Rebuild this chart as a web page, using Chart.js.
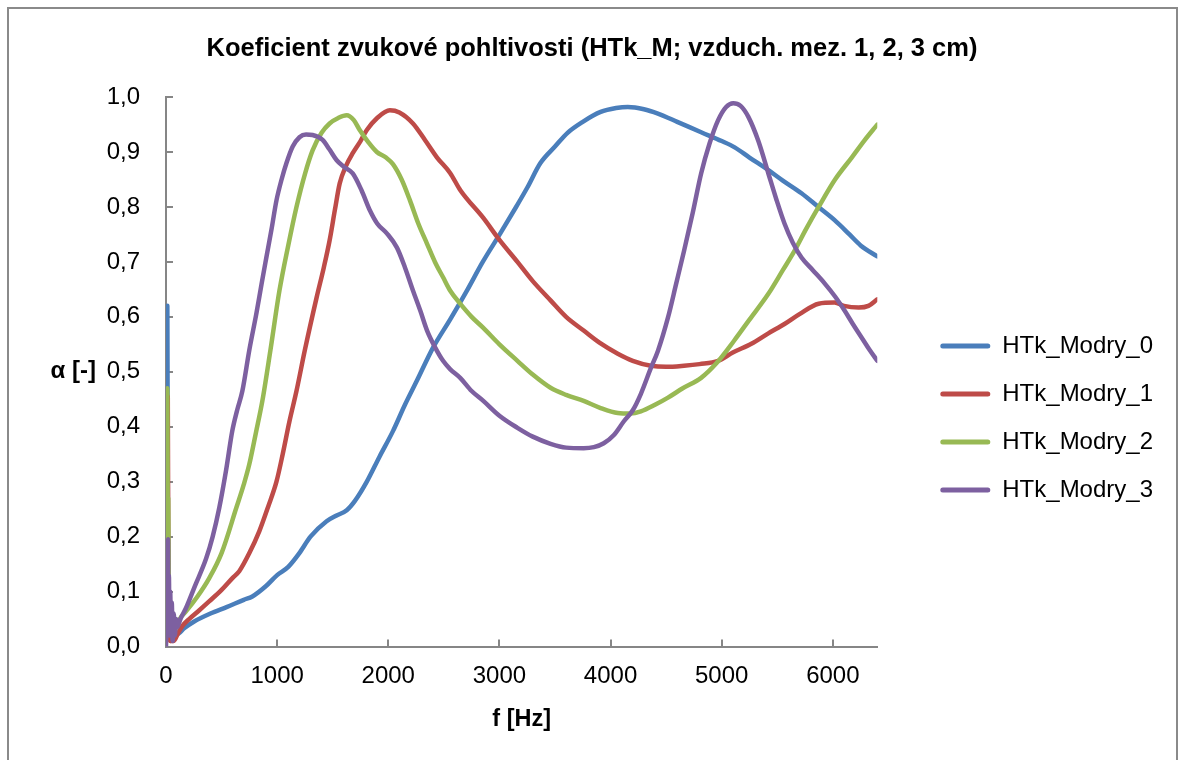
<!DOCTYPE html>
<html>
<head>
<meta charset="utf-8">
<script src="https://cdn.jsdelivr.net/npm/chart.js@4.4.1/dist/chart.umd.min.js"></script>
<style>
  html, body { margin: 0; padding: 0; background: #ffffff; }
  #wrap { width: 1181px; height: 760px; }
</style>
</head>
<body>
<div id="wrap"><canvas id="c" width="1181" height="760" style="width:1181px;height:760px;"></canvas></div>
<script>
// ---- data ----
const chartTitle = 'Koeficient zvukové pohltivosti (HTk_M; vzduch. mez. 1, 2, 3 cm)';
const xAxisTitle = 'f [Hz]';
const yAxisTitle = 'α [-]';
const seriesNames = ['HTk_Modry_0', 'HTk_Modry_1', 'HTk_Modry_2', 'HTk_Modry_3'];
const xTickValues = [0, 1000, 2000, 3000, 4000, 5000, 6000];
const xTickLabels = ['0', '1000', '2000', '3000', '4000', '5000', '6000'];
const yTickValues = [0, 0.1, 0.2, 0.3, 0.4, 0.5, 0.6, 0.7, 0.8, 0.9, 1.0];
const yTickLabels = ['0,0', '0,1', '0,2', '0,3', '0,4', '0,5', '0,6', '0,7', '0,8', '0,9', '1,0'];

const freq0 = [0, 6, 12, 16, 20, 28, 40, 60, 80, 117, 163, 250, 400, 550, 700, 777, 900, 1000, 1100, 1200, 1300, 1445, 1530, 1626, 1700, 1807, 1920, 2042, 2150, 2258, 2403, 2556, 2700, 2850, 3008, 3150, 3250, 3369, 3500, 3613, 3750, 3911, 4050, 4155, 4300, 4426, 4600, 4815, 5000, 5113, 5250, 5420, 5550, 5718, 5870, 6016, 6150, 6250, 6400];
const alpha0 = [0.02, 0.45, 0.62, 0.3, 0.06, 0.02, 0.01, 0.015, 0.02, 0.024, 0.033, 0.045, 0.06, 0.072, 0.085, 0.091, 0.11, 0.13, 0.145, 0.17, 0.2, 0.228, 0.238, 0.248, 0.265, 0.30, 0.345, 0.392, 0.44, 0.484, 0.544, 0.595, 0.645, 0.70, 0.752, 0.80, 0.835, 0.88, 0.91, 0.935, 0.955, 0.973, 0.98, 0.982, 0.978, 0.97, 0.955, 0.936, 0.92, 0.909, 0.89, 0.867, 0.848, 0.825, 0.80, 0.776, 0.75, 0.73, 0.71];

const freq1 = [0, 10, 16, 22, 30, 40, 70, 110, 150, 208, 300, 388, 500, 600, 659, 750, 840, 920, 994, 1050, 1111, 1174, 1250, 1355, 1420, 1472, 1520, 1563, 1620, 1680, 1750, 1807, 1900, 2014, 2100, 2222, 2330, 2439, 2556, 2650, 2855, 3000, 3162, 3300, 3460, 3600, 3758, 3900, 4065, 4200, 4363, 4500, 4661, 4800, 4968, 5100, 5267, 5420, 5565, 5700, 5872, 6016, 6100, 6233, 6320, 6400];
const alpha1 = [0.01, 0.06, 0.455, 0.08, 0.02, 0.01, 0.01, 0.025, 0.038, 0.05, 0.066, 0.082, 0.103, 0.125, 0.137, 0.17, 0.21, 0.255, 0.30, 0.35, 0.41, 0.465, 0.54, 0.635, 0.69, 0.739, 0.795, 0.843, 0.875, 0.898, 0.92, 0.94, 0.962, 0.976, 0.972, 0.952, 0.922, 0.89, 0.862, 0.83, 0.78, 0.74, 0.70, 0.665, 0.63, 0.60, 0.575, 0.553, 0.533, 0.52, 0.511, 0.509, 0.511, 0.514, 0.52, 0.535, 0.551, 0.57, 0.587, 0.605, 0.624, 0.626, 0.62, 0.617, 0.62, 0.632];

const freq2 = [0, 6, 12, 16, 20, 24, 30, 40, 60, 80, 110, 140, 180, 280, 388, 500, 632, 700, 750, 810, 867, 940, 1021, 1100, 1174, 1250, 1319, 1400, 1472, 1550, 1626, 1690, 1743, 1820, 1897, 1980, 2042, 2120, 2195, 2270, 2349, 2420, 2493, 2556, 2647, 2750, 2855, 3000, 3162, 3300, 3460, 3600, 3758, 3900, 4065, 4180, 4273, 4400, 4517, 4650, 4815, 4950, 5113, 5250, 5420, 5550, 5655, 5760, 5872, 6020, 6170, 6280, 6400];
const alpha2 = [0.02, 0.2, 0.47, 0.25, 0.27, 0.12, 0.06, 0.03, 0.05, 0.03, 0.045, 0.055, 0.064, 0.09, 0.124, 0.17, 0.252, 0.295, 0.332, 0.39, 0.447, 0.54, 0.648, 0.73, 0.80, 0.86, 0.903, 0.935, 0.952, 0.962, 0.967, 0.958, 0.94, 0.918, 0.90, 0.89, 0.878, 0.85, 0.812, 0.77, 0.733, 0.70, 0.672, 0.648, 0.624, 0.60, 0.58, 0.55, 0.52, 0.495, 0.471, 0.458, 0.447, 0.435, 0.425, 0.424, 0.428, 0.44, 0.453, 0.47, 0.489, 0.515, 0.557, 0.595, 0.642, 0.685, 0.72, 0.76, 0.80, 0.85, 0.89, 0.92, 0.95];

const freq3 = [0, 6, 10, 14, 18, 22, 26, 32, 38, 44, 52, 60, 70, 80, 90, 100, 130, 180, 260, 361, 420, 479, 540, 596, 640, 687, 750, 813, 860, 903, 950, 994, 1040, 1084, 1140, 1201, 1260, 1319, 1409, 1470, 1536, 1600, 1680, 1760, 1834, 1900, 1987, 2078, 2150, 2222, 2290, 2349, 2420, 2493, 2556, 2647, 2750, 2855, 3000, 3162, 3300, 3460, 3600, 3758, 3850, 3939, 4030, 4120, 4200, 4273, 4363, 4426, 4517, 4590, 4661, 4740, 4815, 4890, 4968, 5040, 5104, 5170, 5240, 5330, 5420, 5490, 5565, 5640, 5718, 5820, 5926, 6020, 6107, 6180, 6260, 6330, 6400];
const alpha3 = [0.0, 0.05, 0.13, 0.09, 0.195, 0.07, 0.13, 0.02, 0.1, 0.03, 0.08, 0.01, 0.06, 0.02, 0.05, 0.035, 0.05, 0.07, 0.11, 0.16, 0.2, 0.252, 0.32, 0.392, 0.43, 0.465, 0.54, 0.606, 0.66, 0.708, 0.76, 0.812, 0.85, 0.88, 0.91, 0.927, 0.932, 0.931, 0.922, 0.905, 0.885, 0.873, 0.861, 0.83, 0.794, 0.77, 0.752, 0.726, 0.69, 0.648, 0.61, 0.575, 0.545, 0.52, 0.505, 0.489, 0.465, 0.447, 0.42, 0.398, 0.382, 0.369, 0.362, 0.361, 0.363, 0.37, 0.385, 0.41, 0.43, 0.46, 0.507, 0.538, 0.599, 0.66, 0.72, 0.79, 0.861, 0.915, 0.958, 0.982, 0.989, 0.984, 0.964, 0.92, 0.861, 0.815, 0.77, 0.735, 0.708, 0.685, 0.661, 0.637, 0.611, 0.587, 0.562, 0.54, 0.52];

const seriesColors = ['#4A7EBB', '#BE4B48', '#98B954', '#7D60A0'];

// ---- build datasets ----
const freqs = [freq0, freq1, freq2, freq3];
const alphas = [alpha0, alpha1, alpha2, alpha3];
const datasets = seriesNames.map((name, i) => ({
  label: name,
  data: freqs[i].map((f, k) => ({ x: f, y: alphas[i][k] })),
  borderColor: seriesColors[i],
  backgroundColor: seriesColors[i],
  borderWidth: 4.5,
  pointRadius: 0,
  pointHoverRadius: 0,
  cubicInterpolationMode: 'monotone',
  borderCapStyle: 'round',
  borderJoinStyle: 'round',
  fill: false,
  order: 3 - i
}));

const FONT = "'Liberation Sans', Arial, sans-serif";
const AXIS_GRAY = '#868686';

const frame = {
  id: 'frame',
  beforeDraw(chart) {
    const ctx = chart.ctx;
    ctx.save();
    ctx.fillStyle = '#ffffff';
    ctx.fillRect(0, 0, chart.width, chart.height);
    ctx.strokeStyle = '#8a8a8a';
    ctx.lineWidth = 2;
    ctx.strokeRect(8, 8, 1169, 800);
    ctx.restore();
  },
  beforeDatasetsDraw(chart) {
    const ctx = chart.ctx;
    const xs = chart.scales.x, ys = chart.scales.y;
    const a = chart.chartArea;
    ctx.save();
    ctx.strokeStyle = AXIS_GRAY;
    ctx.lineWidth = 2;
    ctx.beginPath();
    ys.ticks.forEach(t => {
      const py = Math.round(ys.getPixelForValue(t.value));
      ctx.moveTo(a.left, py);
      ctx.lineTo(a.left + 7, py);
    });
    xs.ticks.forEach(t => {
      const px = Math.round(xs.getPixelForValue(t.value));
      ctx.moveTo(px, a.bottom);
      ctx.lineTo(px, a.bottom - 7);
    });
    ctx.stroke();
    // horizontal y-axis title
    ctx.fillStyle = '#000000';
    ctx.font = 'bold 24px ' + FONT;
    ctx.textAlign = 'right';
    ctx.textBaseline = 'middle';
    ctx.fillText(yAxisTitle, a.left - 70, (a.top + a.bottom) / 2);
    ctx.restore();
  }
};

new Chart(document.getElementById('c'), {
  type: 'line',
  data: { datasets },
  options: {
    responsive: false,
    animation: false,
    devicePixelRatio: 1,
    layout: { padding: { left: 21, right: 18, top: 0, bottom: 0 } },
    plugins: {
      title: {
        display: true,
        text: chartTitle,
        color: '#000000',
        font: { family: FONT, size: 25.5, weight: 'bold' },
        padding: { top: 34, bottom: 32.5 }
      },
      legend: {
        display: true,
        position: 'right',
        align: 'center',
        maxWidth: 320,
        title: { display: true, text: '', font: { size: 10 }, padding: { top: 64, bottom: 0 } },
        labels: {
          color: '#000000',
          font: { family: FONT, size: 24 },
          boxWidth: 50,
          boxHeight: 5,
          padding: 24,
          useBorderRadius: true,
          borderRadius: 2.5,
          generateLabels(chart) {
            return chart.data.datasets.map((d, i) => ({
              text: d.label,
              fillStyle: d.borderColor,
              strokeStyle: d.borderColor,
              fontColor: '#000000',
              lineWidth: 0,
              hidden: false,
              datasetIndex: i,
              borderRadius: 2.5
            }));
          }
        }
      },
      tooltip: { enabled: false }
    },
    scales: {
      x: {
        type: 'linear',
        position: 'bottom',
        min: 0,
        max: 6400,
        border: { display: true, color: AXIS_GRAY, width: 2 },
        grid: { display: false, drawTicks: false },
        afterBuildTicks(s) { s.ticks = xTickValues.map(v => ({ value: v })); },
        ticks: {
          maxRotation: 0,
          autoSkip: false,
          padding: 15,
          color: '#000000',
          font: { family: FONT, size: 24 },
          callback: (v, i) => xTickLabels[i]
        },
        title: {
          display: true,
          text: xAxisTitle,
          color: '#000000',
          font: { family: FONT, size: 23.5, weight: 'bold' },
          padding: { top: 0, bottom: 26.5 }
        }
      },
      y: {
        type: 'linear',
        position: 'left',
        min: 0,
        max: 1,
        border: { display: true, color: AXIS_GRAY, width: 2 },
        grid: { display: false, drawTicks: false },
        afterBuildTicks(s) { s.ticks = yTickValues.map(v => ({ value: v })); },
        ticks: {
          autoSkip: false,
          padding: 26,
          color: '#000000',
          font: { family: FONT, size: 24 },
          callback: (v, i) => yTickLabels[i]
        },
        afterFit(s) { s.width = 145; }
      },
      gap: {
        type: 'linear',
        position: 'right',
        display: true,
        border: { display: false },
        grid: { display: false, drawTicks: false },
        ticks: { display: false },
        afterFit(s) { s.width = 39; }
      }
    }
  },
  plugins: [frame]
});
</script>
</body>
</html>
